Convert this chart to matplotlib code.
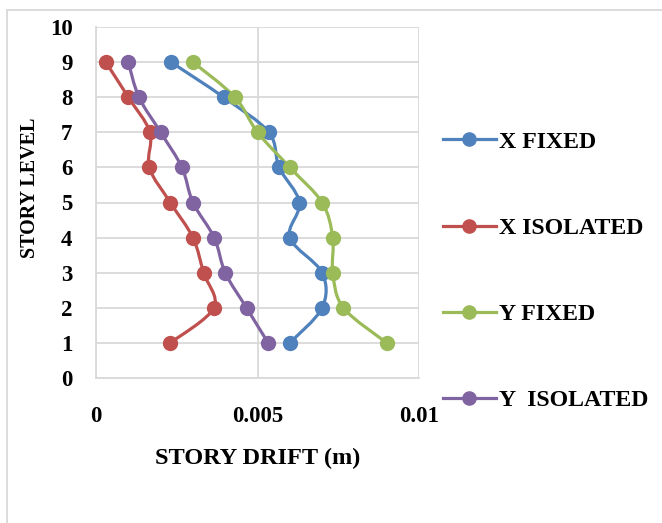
import numpy as np
import matplotlib
matplotlib.use("Agg")
import matplotlib.pyplot as plt
from matplotlib.path import Path
from matplotlib.patches import PathPatch, Rectangle
from matplotlib.lines import Line2D

# story drift per level (m)
levels = [1, 2, 3, 4, 5, 6, 7, 8, 9]
x_fixed = [0.0060, 0.0070, 0.0070, 0.0060, 0.0063, 0.00567, 0.00535, 0.00395, 0.00232]
x_isolated = [0.0023, 0.00365, 0.00333, 0.0030, 0.0023, 0.00165, 0.00167, 0.0010, 0.0003]
y_fixed = [0.0090, 0.00766, 0.00733, 0.00733, 0.0070, 0.0060, 0.0050, 0.0043, 0.0030]
y_isolated = [0.00533, 0.00466, 0.0040, 0.00366, 0.0030, 0.00266, 0.0020, 0.00133, 0.0010]

names = ["X FIXED", "X ISOLATED", "Y FIXED", "Y  ISOLATED"]
colors = ["#4F81BD", "#C0504D", "#9BBB59", "#8064A2"]

plt.rcParams['font.family'] = ['Liberation Serif', 'DejaVu Serif']
plt.rcParams['font.weight'] = 'bold'
TICK_FS = 16.5
LEG_FS = 17.2


def smooth_path(xs, ys):
    # excel style smoothed line: cubic bezier through each point
    pts = np.column_stack([xs, ys])
    n = len(pts)
    verts = [pts[0]]
    codes = [Path.MOVETO]
    for i in range(n - 1):
        p0 = pts[i - 1] if i > 0 else pts[i]
        p1 = pts[i]
        p2 = pts[i + 1]
        p3 = pts[i + 2] if i + 2 < n else pts[i + 1]
        c1 = p1 + (p2 - p0) / 6
        c2 = p2 - (p3 - p1) / 6
        verts += [c1, c2, p2]
        codes += [Path.CURVE4] * 3
    return Path(verts, codes)


fig = plt.figure(figsize=(6.62, 5.23), dpi=100)
ax = fig.add_axes([96 / 662, 1 - 378 / 523, 323 / 662, 351 / 523])

series = [x_fixed, x_isolated, y_fixed, y_isolated]
for vals, c in zip(series, colors):
    ax.add_patch(PathPatch(smooth_path(vals, levels), facecolor='none',
                           edgecolor=c, lw=2.3, zorder=3))
    ax.plot(vals, levels, 'o', color=c, ms=10, zorder=4)

ax.set_xlim(0, 0.01)
ax.set_ylim(0, 10)
ax.set_xticks([0, 0.005, 0.01])
ax.set_xticklabels(["0", "0.005", "0.01"])
ax.set_yticks(range(0, 11))
ax.tick_params(length=0, labelsize=TICK_FS)
ax.tick_params(axis='x', pad=20)
ax.tick_params(axis='y', pad=17)
ax.grid(True, color='#D9D9D9', lw=1.3)
ax.set_axisbelow(True)
for s in ['top', 'right']:
    ax.spines[s].set_visible(False)
for s in ['left', 'bottom']:
    ax.spines[s].set_color('#D9D9D9')
    ax.spines[s].set_linewidth(1.3)

ax.set_xlabel("STORY DRIFT (m)", fontsize=17.5, fontweight='bold', labelpad=15)
ax.set_ylabel("STORY LEVEL", fontsize=14.5, fontweight='bold')
ax.yaxis.set_label_coords(-0.174, 0.541)

handles = [Line2D([], [], color=c, lw=2.3, marker='o', ms=9.5) for c in colors]
fig.legend(handles, names, loc='upper left', bbox_to_anchor=(433 / 662, 1 - 121.5 / 523),
           frameon=False, labelspacing=2.7, handlelength=2.23, borderaxespad=0,
           handletextpad=0.12, prop={'weight': 'bold', 'size': LEG_FS})

fig.patches.append(Rectangle((7 / 662, -0.1), 2, 1 - 10 / 523 + 0.1,
                             transform=fig.transFigure, fill=False,
                             edgecolor='#D9D9D9', lw=1.3))

fig.savefig("out.png", dpi=100)
